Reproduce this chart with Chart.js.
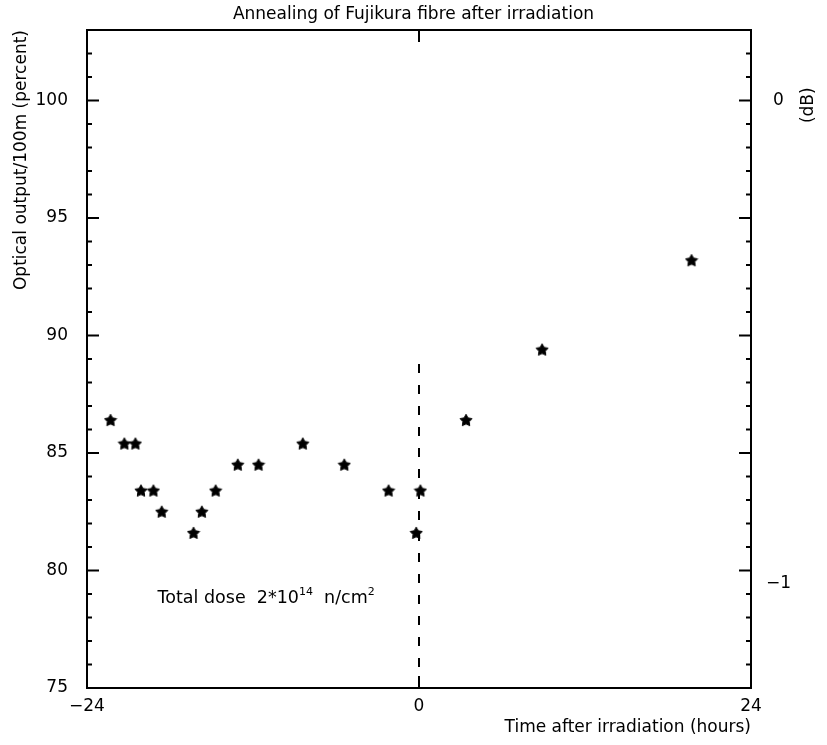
<!DOCTYPE html>
<html>
<head>
<meta charset="utf-8">
<script src="https://cdn.jsdelivr.net/npm/chart.js@4.4.1/dist/chart.umd.min.js"></script>
<style>
  body { margin: 0; background: #fff; }
  canvas { display: block; }
</style>
</head>
<body>
<canvas id="annealChart" width="827" height="745"></canvas>
<script>
// hours after irradiation vs. optical output per 100 m
const hours = [-22.3, -21.3, -20.5, -20.1, -19.2, -18.6, -16.3, -15.7, -14.7, -13.1, -11.6, -8.4, -5.4, -2.2, -0.2, 0.1, 3.4, 8.9, 19.7]
const output = [86.4, 85.4, 85.4, 83.4, 83.4, 82.5, 81.6, 82.5, 83.4, 84.5, 84.5, 85.4, 84.5, 83.4, 81.6, 83.4, 86.4, 89.4, 93.2]

// axis ticks
const xTicks = [-24, 0, 24]
const dbTicks = [0, -1]
const yMin = 75
const yMax = 103

// end of irradiation marker (dashed line at t = 0)
const doseLineX = [0, 0]
const doseLineY = [75, 89]

const FONT = "'DejaVu Sans', sans-serif"
const minus = v => v < 0 ? "\u2212" + (-v) : String(v)

////////// filled five point star used as the marker //////////
const starMarker = (() => {
    const c = document.createElement("canvas")
    c.width = 14
    c.height = 14
    const g = c.getContext("2d")
    g.fillStyle = "#000"
    g.strokeStyle = "#000"
    g.lineWidth = 1
    g.lineJoin = "round"
    g.beginPath()
    for (let i = 0; i < 10; i++) {
        const r = i % 2 === 0 ? 6.3 : 3.3
        const a = -Math.PI / 2 + i * Math.PI / 5
        const px = 7 + r * Math.cos(a)
        const py = 7.5 + r * Math.sin(a)
        i === 0 ? g.moveTo(px, py) : g.lineTo(px, py)
    }
    g.closePath()
    g.fill()
    g.stroke()
    return c
})()

////////// frame, inward tick marks and extra text //////////
const frameAndTicks = {
    id: "frameAndTicks",
    afterDraw(chart) {
        const {ctx, chartArea: a, scales} = chart
        ctx.save()
        ctx.strokeStyle = "#000"
        ctx.lineWidth = 2
        ctx.strokeRect(a.left, a.top, a.right - a.left, a.bottom - a.top)

        ctx.beginPath()
        scales.y.ticks.forEach(t => {
            const py = scales.y.getPixelForValue(t.value)
            const len = t.value % 5 === 0 ? 12 : 5
            ctx.moveTo(a.left, py)
            ctx.lineTo(a.left + len, py)
            ctx.moveTo(a.right, py)
            ctx.lineTo(a.right - len, py)
        })
        scales.x.ticks.forEach(t => {
            const px = scales.x.getPixelForValue(t.value)
            ctx.moveTo(px, a.top)
            ctx.lineTo(px, a.top + 12)
            ctx.moveTo(px, a.bottom)
            ctx.lineTo(px, a.bottom - 12)
        })
        ctx.stroke()

        // right axis title, read bottom to top
        ctx.fillStyle = "#000"
        ctx.font = "17px " + FONT
        ctx.textAlign = "center"
        ctx.textBaseline = "middle"
        ctx.translate(a.right + 58, scales.y.getPixelForValue(99.8))
        ctx.rotate(-Math.PI / 2)
        ctx.fillText("(dB)", 0, 0)
        ctx.restore()

        // dose note with superscripts
        ctx.save()
        ctx.fillStyle = "#000"
        ctx.textBaseline = "alphabetic"
        ctx.textAlign = "left"
        let x = scales.x.getPixelForValue(-18.9)
        const y = scales.y.getPixelForValue(78.6)
        const parts = [["Total dose  2*10", 17.5, 0], ["14", 11, -8], ["  n/cm", 17.5, 0], ["2", 11, -8]]
        parts.forEach(([txt, size, rise]) => {
            ctx.font = size + "px " + FONT
            ctx.fillText(txt, x, y + rise)
            x += ctx.measureText(txt).width
        })
        ctx.restore()
    }
}

let ctx = document.getElementById("annealChart").getContext("2d")
const annealChart = new Chart(ctx, {
    data: {
        datasets: [{
            type: "scatter",
            label: "Optical output",
            data: hours.map((h, i) => ({x: h, y: output[i]})),
            pointStyle: starMarker,
            pointRadius: 6,
            yAxisID: "y"
        }, {
            type: "line",
            label: "Irradiation end",
            data: doseLineX.map((h, i) => ({x: h, y: doseLineY[i]})),
            borderColor: "#000",
            borderWidth: 2,
            borderDash: [9, 12],
            pointRadius: 0,
            yAxisID: "y"
        }]
    },
    options: {
        animation: false,
        responsive: false,
        layout: {padding: 0},
        plugins: {
            legend: {display: false},
            tooltip: {enabled: false},
            title: {
                display: true,
                text: "Annealing of Fujikura fibre after irradiation",
                color: "#000",
                font: {family: FONT, size: 17, weight: "normal"},
                padding: {top: 4, bottom: 5.6}
            }
        },
        scales: {
            x: {
                type: "linear",
                min: -24,
                max: 24,
                afterBuildTicks: s => { s.ticks = xTicks.map(v => ({value: v})) },
                afterFit: s => { s.height = 57 },
                grid: {display: false, drawTicks: false},
                border: {display: false},
                ticks: {
                    color: "#000",
                    font: {family: FONT, size: 17},
                    padding: 8,
                    autoSkip: false,
                    maxRotation: 0,
                    callback: v => minus(v)
                },
                title: {
                    display: true,
                    text: "Time after irradiation (hours)",
                    align: "end",
                    color: "#000",
                    font: {family: FONT, size: 17},
                    padding: {top: 0, bottom: 7}
                }
            },
            y: {
                position: "left",
                min: yMin,
                max: yMax,
                afterFit: s => { s.width = 87 },
                grid: {display: false, drawTicks: false},
                border: {display: false},
                ticks: {
                    stepSize: 1,
                    autoSkip: false,
                    color: "#000",
                    font: {family: FONT, size: 17},
                    padding: 19,
                    callback: v => v % 5 === 0 ? String(v) : ""
                },
                title: {
                    display: true,
                    text: "Optical output/100m (percent)",
                    align: "end",
                    color: "#000",
                    font: {family: FONT, size: 17},
                    padding: {top: 11, bottom: 0}
                }
            },
            y2: {
                position: "right",
                min: yMin,
                max: yMax,
                afterBuildTicks: s => { s.ticks = dbTicks.map(d => ({value: 100 * Math.pow(10, d / 10)})) },
                afterFit: s => { s.width = 76 },
                grid: {display: false, drawTicks: false},
                border: {display: false},
                ticks: {
                    autoSkip: false,
                    color: "#000",
                    font: {family: FONT, size: 17},
                    padding: 15,
                    crossAlign: "center",
                    callback: (v, i) => minus(dbTicks[i])
                }
            }
        }
    },
    plugins: [frameAndTicks]
})
</script>
</body>
</html>
